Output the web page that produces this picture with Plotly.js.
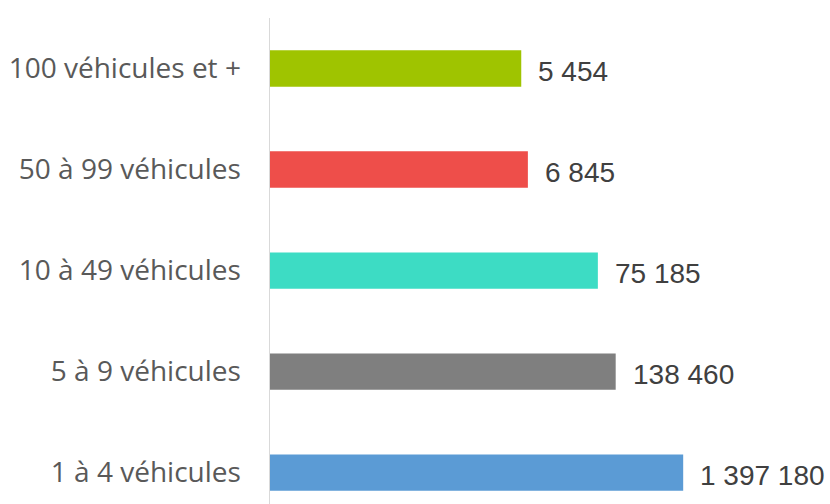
<!DOCTYPE html>
<html>
<head>
<meta charset="utf-8">
<script src="https://cdn.plot.ly/plotly-3.0.1.min.js"></script>
<style>html,body{margin:0;padding:0;background:#fff;}#chart{width:830px;height:504px;}</style>
</head>
<body>
<div id="chart"></div>
<script>
const categories = ["1 à 4 véhicules", "5 à 9 véhicules", "10 à 49 véhicules", "50 à 99 véhicules", "100 véhicules et +"];
const values = [1397180, 138460, 75185, 6845, 5454];
const valueLabels = ["1 397 180", "138 460", "75 185", "6 845", "5 454"];
const colors = ["#5b9bd5", "#7f7f7f", "#3ddcc4", "#ee4e4a", "#9fc400"];

const trace = {
  type: "bar",
  orientation: "h",
  y: categories,
  x: values,
  marker: {color: colors},
  width: 0.36,
  hoverinfo: "none"
};

const annotations = values.map((v, i) => ({
  x: Math.log10(v),
  y: categories[i],
  xref: "x", yref: "y",
  text: valueLabels[i],
  showarrow: false,
  xanchor: "left",
  yanchor: "middle",
  xshift: 15,
  yshift: -3,
  font: {family: "Liberation Sans, Arial, sans-serif", size: 28, color: "#404040"}
}));

const layout = {
  width: 830,
  height: 504,
  margin: {l: 270, r: 10, t: 18, b: 0},
  paper_bgcolor: "#ffffff",
  plot_bgcolor: "#ffffff",
  showlegend: false,
  xaxis: {type: "log", range: [0, 8.18], visible: false, fixedrange: true},
  yaxis: {
    type: "category",
    range: [-0.31, 4.5],
    showline: true,
    linecolor: "#d9d9d9",
    linewidth: 1.5,
    showgrid: false,
    zeroline: false,
    ticks: "",
    ticklabelstandoff: 22,
    tickfont: {family: "Open Sans, sans-serif", size: 28, color: "#595959"}
  },
  annotations: annotations
};

Plotly.newPlot("chart", [trace], layout, {displayModeBar: false, staticPlot: true});
</script>
</body>
</html>
